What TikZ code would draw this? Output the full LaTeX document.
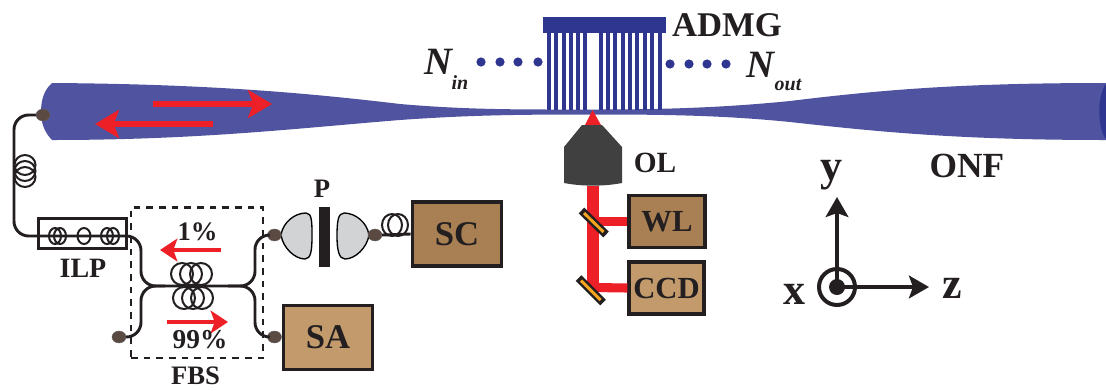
\documentclass[tikz,border=0pt]{standalone}
\usepackage{fontspec}
\setmainfont{Liberation Serif}
\usepackage{xcolor}
\usetikzlibrary{arrows.meta,shapes.geometric}
\definecolor{fibreblue}{HTML}{5054A0}
\definecolor{gratingblue}{HTML}{2E3690}
\definecolor{beamred}{HTML}{ED2028}
\definecolor{inkblack}{HTML}{231F20}
\definecolor{darkbox}{HTML}{A98053}
\definecolor{lightbox}{HTML}{C29A6C}
\definecolor{lensgrey}{HTML}{D1D3D4}
\definecolor{objgrey}{HTML}{404041}
\definecolor{plugbrown}{HTML}{5A4A42}
\definecolor{mirrorgold}{HTML}{F7A521}
\tikzset{
  lab/.style={text=inkblack,inner sep=0pt,font=\fontsize{#1}{#1}\selectfont\bfseries},
  itlab/.style={text=inkblack,inner sep=0pt,font=\fontsize{#1}{#1}\selectfont\bfseries\itshape},
  instr/.style={draw=inkblack,line width=2.6pt,inner sep=0pt,font=\fontsize{#1}{#1}\selectfont\bfseries,text=inkblack},
  plug/.style={ellipse,fill=plugbrown,draw=inkblack!70,line width=0.3pt,minimum width=10.5pt,minimum height=9pt,inner sep=0pt},
  fibre/.style={draw=inkblack,line width=2.2pt,rounded corners=11pt},
  coil/.style={draw=inkblack,line width=1.5pt},
  redarrow/.style={draw=beamred,line width=4.6pt,-{Stealth[length=18pt,width=21pt,inset=4pt]}},
  smallred/.style={draw=beamred,line width=3.4pt,-{Stealth[length=13pt,width=17pt,inset=3pt]}},
  axisline/.style={draw=inkblack,line width=2.8pt,-{Stealth[length=15pt,width=17pt,inset=3pt]}},
  beam/.style={draw=beamred,line width=#1}
}
\begin{document}
\begin{tikzpicture}[x=0.75pt,y=-0.75pt]
  \useasboundingbox (0,0) rectangle (1106,390);
  % tapered fibre
  \fill[fibreblue] (52,83) .. controls (200,84) and (300,92) .. (400,104)
    .. controls (470,110) and (520,109.5) .. (592,109.5)
    .. controls (660,109.5) and (720,108) .. (790,101)
    .. controls (880,90) and (960,83) .. (1106,83)
    -- (1106,140) .. controls (960,140) and (880,132) .. (790,122)
    .. controls (720,115) and (660,114.5) .. (592,114.5)
    .. controls (520,114.5) and (470,115) .. (400,120)
    .. controls (300,128) and (200,140) .. (52,140)
    .. controls (44,132) and (41,122) .. (41,112)
    .. controls (41,100) and (44,90) .. (52,83) -- cycle;
  \fill[gratingblue] (1106,84) .. controls (1097,95) and (1097,128) .. (1106,139) -- cycle;
  % grating
  \fill[gratingblue] (543,17) rectangle (666,33);
  \foreach \tx in {0,...,5} {
    \fill[gratingblue] ({547+7.25*\tx},33) rectangle ({551+7.25*\tx},110);
  }
  \foreach \tx in {0,...,8} {
    \fill[gratingblue] ({598.7+7.35*\tx},33) rectangle ({602.7+7.35*\tx},110);
  }
  \foreach \dx in {481,500,518,538} { \fill[gratingblue] (\dx,62) circle[radius=4.6]; }
  \foreach \dx in {670,689,707,726} { \fill[gratingblue] (\dx,64) circle[radius=4.6]; }
  \node[lab=26] (admg) at (727,25) {ADMG};
  \node[itlab=29] (nin) at (438,62) {N};
  \node[itlab=15] (ninsub) at (460,83) {in};
  \node[itlab=29] (nout) at (760,65) {N};
  \node[itlab=15] (noutsub) at (788,85) {out};
  % light in the fibre
  \coordinate (fwdA) at (153,104);
  \coordinate (fwdB) at (272,104);
  \coordinate (bckA) at (213,124);
  \coordinate (bckB) at (95,124);
  \draw[redarrow] (fwdA) -- (fwdB);
  \draw[redarrow] (bckA) -- (bckB);
  % objective and beam path
  \coordinate (beamtop) at (593,186);
  \coordinate (beamend) at (593,292);
  \node[instr=23,fill=darkbox,minimum width=57pt,minimum height=39pt] (wl) at (667,221.5) {WL};
  \node[instr=23,fill=lightbox,minimum width=56pt,minimum height=39pt] (ccd) at (666.5,288) {CCD};
  \draw[beam=9pt] (beamtop) -- (beamend);
  \draw[beam=6.8pt] (593,221.5) -- (wl.west);
  \draw[beam=6.8pt] (593,287.5) -- (ccd.west);
  \fill[beamred] (592.5,110) -- (601,125) -- (585,125) -- cycle;
  \fill[objgrey] (582,125) -- (602,125) -- (622,147) -- (622,183) .. controls (604,186.5) and (582,186.5) .. (564,183) -- (564,147) -- cycle;
  \node[lab=22] (ol) at (655,163) {OL};
  \draw[inkblack,line width=6pt] (581.5,210.5) -- (606,234.5);
  \draw[mirrorgold,line width=2.2pt] (584,213) -- (603.5,232);
  \draw[inkblack,line width=6pt] (578.5,278) -- (603,302.5);
  \draw[mirrorgold,line width=2.2pt] (581,280.5) -- (600.5,300);
  % instruments
  \node[instr=26,fill=darkbox,minimum width=67pt,minimum height=48pt] (sc) at (457,234) {SC};
  \node[instr=26,fill=lightbox,minimum width=67pt,minimum height=48pt] (sa) at (328,337.5) {SA};
  % polarizer
  \fill[inkblack] (319,207) rectangle (330,267);
  \draw[fill=lensgrey,draw=black,line width=1pt] (281,235) .. controls (283,222) and (295,213) .. (306,213)
    .. controls (312,213) and (312,222) .. (312,236) .. controls (312,250) and (311,259) .. (305,259)
    .. controls (295,259) and (283,248) .. (281,235) -- cycle;
  \draw[fill=lensgrey,draw=black,line width=1pt] (369,235) .. controls (367,222) and (355,213) .. (344,213)
    .. controls (338,213) and (337,222) .. (337,236) .. controls (337,250) and (339,259) .. (345,259)
    .. controls (355,259) and (367,248) .. (369,235) -- cycle;
  \node[lab=20] (pol) at (322,189) {P};
  % fibre plugs
  \node[plug] (plugonf) at (43,115) {};
  \node[plug] (plugup) at (274.5,235) {};
  \node[plug] (plugdn) at (274.5,337) {};
  \node[plug] (plugin) at (119,337) {};
  \node[plug] (plugsc) at (375,235) {};
  % in-line polarization controller
  \node[draw=inkblack,line width=2.4pt,minimum width=66pt,minimum height=23pt,inner sep=0pt] (ilp) at (82.5,233.5) {};
  \node[lab=21] (ilptxt) at (83,268) {ILP};
  \foreach \ex/\erx in {55/6,60/6,84/6.5,107/6,113/6} {
    \draw[coil] (\ex,236) ellipse[x radius=\erx,y radius=8];
  }
  % fused splitter
  \coordinate (mergeL) at (165,286);
  \coordinate (mergeR) at (228,286);
  \draw[fibre] (plugonf.west) -- (14,115) -- (14,236) -- (141,236) -- (141,286) -- (mergeL) -- (mergeR);
  \draw[fibre] (plugin.east) -- (141,337) -- (141,286) -- (mergeL);
  \draw[fibre] (mergeR) -- (255,286) -- (255,235) -- (plugup.west);
  \draw[fibre] (mergeR) -- (255,286) -- (255,337) -- (plugdn.west);
  \draw[fibre] (plugsc.east) -- (sc.west);
  \foreach \cx in {182,191,201} { \draw[coil] (\cx,274) circle[radius=11]; }
  \foreach \cx in {184,193,202} { \draw[coil] (\cx,298) circle[radius=11]; }
  \foreach \cy in {165,171,177} { \draw[coil] (25,\cy) ellipse[x radius=10.5,y radius=10]; }
  \foreach \cx in {392,398} { \draw[coil] (\cx,225) ellipse[x radius=10,y radius=11]; }
  \node[draw=inkblack,dashed,dash pattern=on 5pt off 4.5pt,line width=2pt,minimum width=99pt,minimum height=113pt,inner sep=0pt] (fbs) at (197,282.5) {};
  \coordinate (oneA) at (221,250);
  \coordinate (oneB) at (160,250);
  \coordinate (ninetyA) at (167,322);
  \coordinate (ninetyB) at (228,322);
  \draw[smallred] (oneA) -- (oneB);
  \draw[smallred] (ninetyA) -- (ninetyB);
  \node[lab=20] (onepc) at (197.5,232) {1\%};
  \node[lab=20.5] (ninetypc) at (200,340) {99\%};
  \node[lab=20] (fbstxt) at (195.5,376) {FBS};
  % axes
  \node[lab=26.5] (onf) at (967,166) {ONF};
  \node[circle,fill=inkblack,minimum size=12pt,inner sep=0pt] (origin) at (837,287) {};
  \draw[inkblack,line width=3pt] (origin) circle[radius=18];
  \coordinate (ytip) at (837,197);
  \coordinate (ztip) at (929,287);
  \draw[axisline] (origin.center) -- (ytip);
  \draw[axisline] (origin.center) -- (ztip);
  \node[lab=33] (ylab) at (831,175) {y};
  \node[lab=33] (xlab) at (794,294) {x};
  \node[lab=33] (zlab) at (952,288) {z};
\end{tikzpicture}
\end{document}
